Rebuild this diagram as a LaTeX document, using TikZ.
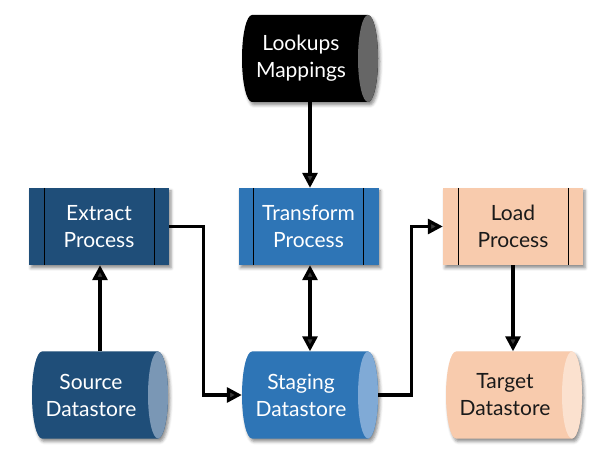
\documentclass[tikz,border=0pt]{standalone}
\usepackage{fontspec}
\setmainfont{Lato}
\usetikzlibrary{arrows.meta,shadows.blur}
\definecolor{dblue}{HTML}{1F4E79}
\definecolor{dbluecap}{HTML}{7A97B5}
\definecolor{mblue}{HTML}{2E75B6}
\definecolor{mbluecap}{HTML}{80AAD6}
\definecolor{peach}{HTML}{F8CBAD}
\definecolor{peachcap}{HTML}{FBE1CF}
\definecolor{lookcap}{HTML}{666666}
\definecolor{txtdark}{HTML}{1A1A1A}
\tikzset{
  myshadow/.style={blur shadow={shadow xshift=2pt,shadow yshift=-3pt,shadow blur radius=3pt,shadow opacity=45}},
  procbox/.style={rectangle,minimum width=140pt,minimum height=77pt,inner sep=0pt,myshadow},
  lbl/.style={align=center,font=\fontsize{21}{27}\selectfont},
  conn/.style={line width=3.2pt,-{Triangle[length=15pt,width=15pt]}},
  conn2/.style={line width=3.2pt,{Triangle[length=15pt,width=15pt]}-{Triangle[length=15pt,width=15pt]}},
  divline/.style={line width=0.6pt,black}
}
\newcommand{\mycyl}[7]{%
  \fill[#4,myshadow] (#2+58,#3+43.5) -- (#2-58,#3+43.5)
    arc[start angle=90,end angle=270,x radius=10,y radius=43.5]
    -- (#2+58,#3-43.5)
    arc[start angle=-90,end angle=90,x radius=10,y radius=43.5] -- cycle;
  \fill[#5] (#2+58,#3) ellipse [x radius=10,y radius=43.5];
  \node[minimum width=136pt,minimum height=87pt,inner sep=0pt] (#1) at (#2,#3) {};
  \node[lbl,text=#6] (#1t) at (#2-9,#3) {#7};
}
\newcommand{\myproc}[6]{%
  \node[procbox,fill=#4] (#1) at (#2,#3) {};
  \draw[divline] ([xshift=15pt]#1.north west) -- ([xshift=15pt]#1.south west);
  \draw[divline] ([xshift=-15pt]#1.north east) -- ([xshift=-15pt]#1.south east);
  \node[lbl,text=#5] (#1t) at (#1) {#6};
}
\begin{document}
\begin{tikzpicture}[x=1pt,y=1pt]
\useasboundingbox (0,0) rectangle (607,463);
\mycyl{look}{310}{404.5}{black}{lookcap}{white}{Lookups\\Mappings}
\myproc{ext}{99}{236.5}{dblue}{white}{Extract\\Process}
\myproc{trans}{308.5}{236.5}{mblue}{white}{Transform\\Process}
\myproc{load}{513}{236.5}{peach}{txtdark}{Load\\Process}
\mycyl{src}{100}{68}{dblue}{dbluecap}{white}{Source\\Datastore}
\mycyl{stg}{310}{68}{mblue}{mbluecap}{white}{Staging\\Datastore}
\mycyl{tgt}{514}{68}{peach}{peachcap}{txtdark}{Target\\Datastore}
\draw[conn] (look.south) -- (look.south |- trans.north);
\draw[conn] (src.north) -- (src.north |- ext.south);
\draw[conn2] (trans.south -| look.south) -- (stg.north);
\draw[conn] (ext.east) -- ++(34,0) |- (stg.west);
\draw[conn] (stg.east) -- ++(33,0) |- (load.west);
\draw[conn] (load.south) -- (load.south |- tgt.north);
\end{tikzpicture}
\end{document}
